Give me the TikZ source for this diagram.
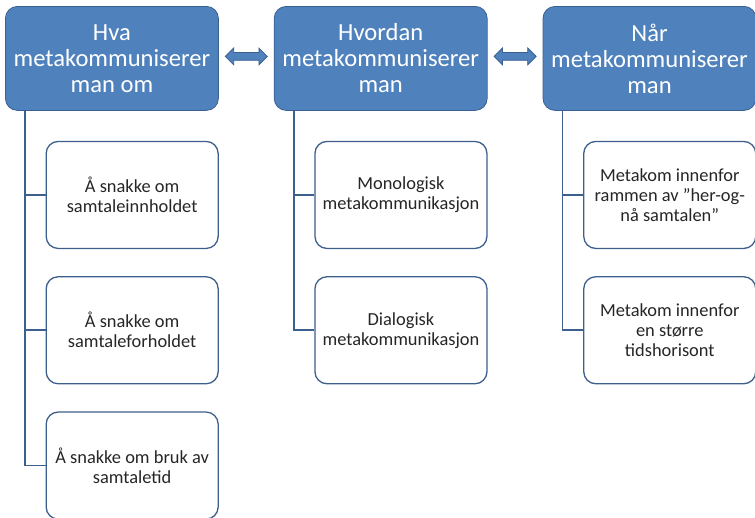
\documentclass[tikz,border=0pt]{standalone}
\usepackage{fontspec}
\setmainfont{Carlito}
\usepackage{xcolor}
\usepackage{tikz}
\usetikzlibrary{arrows.meta, positioning, shapes.arrows, calc}
\definecolor{hdrblue}{HTML}{4F81BD}
\definecolor{hdredge}{HTML}{3A6090}
\definecolor{boxedge}{HTML}{3D5F8C}

\begin{document}
\begin{tikzpicture}[
    head/.style={rectangle, draw=hdredge, line width=0.8pt, fill=hdrblue, rounded corners=12pt, minimum width=213pt, minimum height=104pt, align=center, text=white, font=\fontsize{24.6}{26}\selectfont},
    sub/.style={rectangle, draw=boxedge, line width=1.3pt, fill=white, rounded corners=12pt, minimum width=172pt, minimum height=107pt, align=center, text=black!85, font=\fontsize{18.4}{20}\selectfont},
    link/.style={draw=boxedge, line width=1.6pt},
    twoway/.style={shape=double arrow, draw=hdredge, line width=0.8pt, fill=hdrblue, minimum height=42pt, minimum width=16pt, double arrow head extend=4.5pt, inner xsep=0pt, inner ysep=3.5pt}
]
\useasboundingbox (0,0) rectangle (755pt,-517pt);

\node[head, anchor=north west] (hva) at (5pt,-6pt) {Hva\\metakommuniserer\\man om};
\node[head, right=55pt of hva] (hvordan) {Hvordan\\metakommuniserer\\man};
\node[head, right=55pt of hvordan] (naar) {Når\\metakommuniserer\\man};

\node[twoway] (a1) at ($(hva.east)!0.5!(hvordan.west)+(0,2pt)$) {};
\node[twoway] (a2) at ($(hvordan.east)!0.5!(naar.west)+(0,2pt)$) {};

\node[sub, below left=30pt and 0pt of hva.south east] (innhold) {Å snakke om\\samtaleinnholdet};
\node[sub, below=27pt of innhold] (forhold) {Å snakke om\\samtaleforholdet};
\node[sub, below=27pt of forhold] (tid) {Å snakke om bruk av\\samtaletid};

\node[sub, below left=30pt and 0pt of hvordan.south east] (mono) {Monologisk\\metakommunikasjon};
\node[sub, below=27pt of mono] (dia) {Dialogisk\\metakommunikasjon};

\node[sub, below left=30pt and 0pt of naar.south east] (herog) {Metakom innenfor\\rammen av ”her-og-\\nå samtalen”};
\node[sub, below=27pt of herog] (tidsh) {Metakom innenfor\\en større\\tidshorisont};

\draw[link] ([xshift=20pt]hva.south west) |- (innhold.west);
\draw[link] ([xshift=20pt]hva.south west) |- (forhold.west);
\draw[link] ([xshift=20pt]hva.south west) |- (tid.west);
\draw[link] ([xshift=20pt]hvordan.south west) |- (mono.west);
\draw[link] ([xshift=20pt]hvordan.south west) |- (dia.west);
\draw[link] ([xshift=20pt]naar.south west) |- (herog.west);
\draw[link] ([xshift=20pt]naar.south west) |- (tidsh.west);
\end{tikzpicture}
\end{document}
